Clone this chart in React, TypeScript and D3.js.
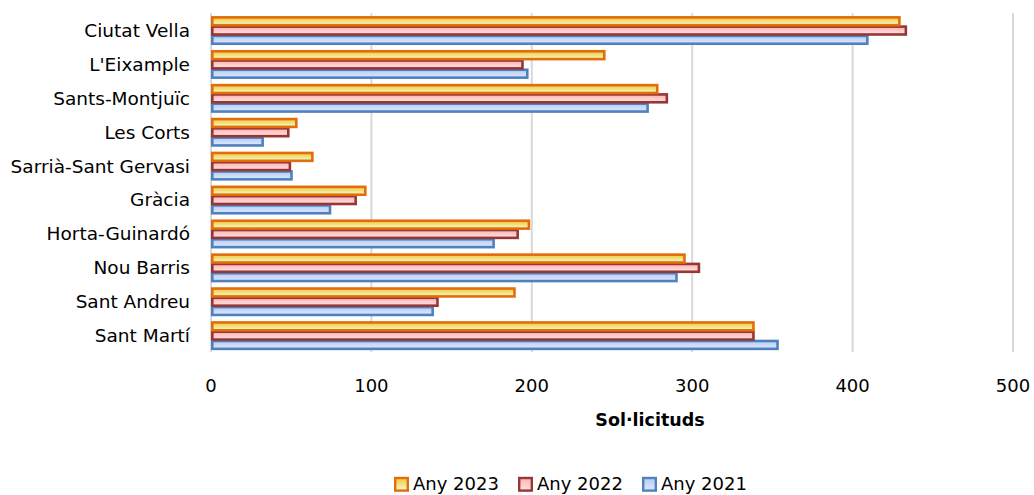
import * as d3 from "d3";

const WIDTH = 1034;
const HEIGHT = 495;

const districts = [
  "Ciutat Vella",
  "L'Eixample",
  "Sants-Montjuïc",
  "Les Corts",
  "Sarrià-Sant Gervasi",
  "Gràcia",
  "Horta-Guinardó",
  "Nou Barris",
  "Sant Andreu",
  "Sant Martí",
];

const years = ["Any 2023", "Any 2022", "Any 2021"];

const values2023 = [430, 246, 279, 54, 64, 97, 199, 296, 190, 339];
const values2022 = [434, 195, 285, 49, 50, 91, 192, 305, 142, 339];
const values2021 = [410, 198, 273, 33, 51, 75, 177, 291, 139, 354];

const xTicks = [0, 100, 200, 300, 400, 500];

const seriesStyle: { [k: string]: { stroke: string; top: string; bottom: string } } = {
  "Any 2023": { stroke: "#e46c0a", top: "#f3c43c", bottom: "#eeffcc" },
  "Any 2022": { stroke: "#953735", top: "#ffb0b0", bottom: "#ffe4e4" },
  "Any 2021": { stroke: "#4f81bd", top: "#b6cbf4", bottom: "#dfe9ff" },
};

const FONT = "'DejaVu Sans', sans-serif";

export default function App() {
  const margin = { left: 211, right: 21, top: 13, bottom: 143 };
  const plotRight = WIDTH - margin.right;
  const plotBottom = HEIGHT - margin.bottom;

  const x = d3.scaleLinear().domain([0, 500]).range([margin.left, plotRight]);
  const y = d3
    .scaleBand()
    .domain(districts)
    .range([margin.top, plotBottom])
    .paddingInner(0.18)
    .paddingOuter(0.09);
  const yInner = d3.scaleBand().domain(years).range([0, y.bandwidth()]);

  const seriesValues: { [k: string]: number[] } = {
    "Any 2023": values2023,
    "Any 2022": values2022,
    "Any 2021": values2021,
  };

  const legendX = [394, 518, 642];

  return (
    <svg
      width={WIDTH}
      height={HEIGHT}
      style={{ position: "absolute", left: 0, top: 0, display: "block" }}
      fontFamily={FONT}
    >
      <defs>
        {years.map((yr, i) => (
          <linearGradient key={yr} id={"grad" + i} x1="0" y1="0" x2="0" y2="1">
            <stop offset="0%" stopColor={seriesStyle[yr].top} />
            <stop offset="100%" stopColor={seriesStyle[yr].bottom} />
          </linearGradient>
        ))}
      </defs>
      <rect width={WIDTH} height={HEIGHT} fill="#ffffff" />

      {xTicks.map((t) => (
        <g key={t}>
          <line
            x1={x(t)}
            x2={x(t)}
            y1={margin.top}
            y2={plotBottom}
            stroke="#d9d9d9"
            strokeWidth={2}
          />
          <text
            x={x(t)}
            y={392}
            textAnchor="middle"
            fontSize={18}
            fill="#000"
          >
            {t}
          </text>
        </g>
      ))}

      {districts.map((d, di) => (
        <g key={d} transform={`translate(0,${y(d)})`}>
          {[...years].reverse().map((yr) => {
            const i = years.indexOf(yr);
            const v = seriesValues[yr][di];
            const st = seriesStyle[yr];
            return (
              <rect
                key={yr}
                x={x(0) + 1.3}
                y={(yInner(yr) ?? 0) + 1.3}
                width={x(v) - x(0) - 2.6}
                height={yInner.bandwidth() - 1.4}
                fill={`url(#grad${i})`}
                stroke={st.stroke}
                strokeWidth={2.6}
              />
            );
          })}
          <text
            x={190}
            y={y.bandwidth() / 2 + 7}
            textAnchor="end"
            fontSize={18.5}
            fill="#000"
          >
            {d}
          </text>
        </g>
      ))}

      <text
        x={650}
        y={426}
        textAnchor="middle"
        fontSize={17.5}
        fontWeight="bold"
        fill="#000"
      >
        Sol·licituds
      </text>

      {years.map((yr, i) => (
        <g key={yr} transform={`translate(${legendX[i]},482)`}>
          <rect
            x={1.2}
            y={-4}
            width={12.6}
            height={12.6}
            fill={`url(#grad${i})`}
            stroke={seriesStyle[yr].stroke}
            strokeWidth={2.4}
          />
          <text x={19} y={8} fontSize={18} fill="#000">
            {yr}
          </text>
        </g>
      ))}
    </svg>
  );
}
